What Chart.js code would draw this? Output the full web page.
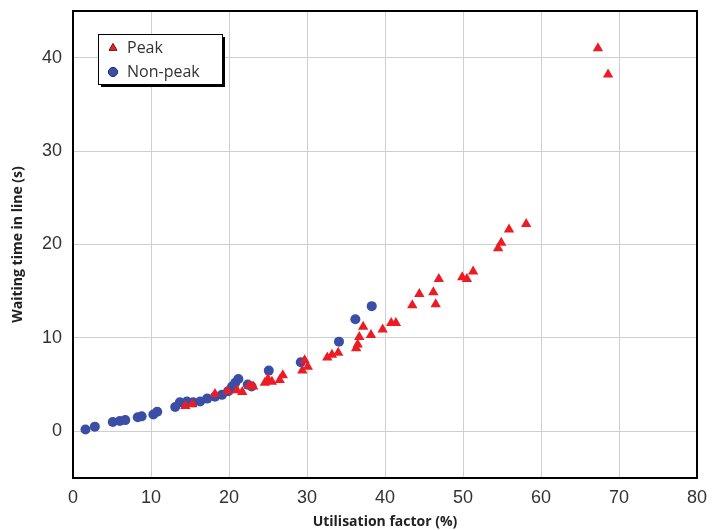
<!DOCTYPE html>
<html>
<head>
<meta charset="utf-8">
<script src="https://cdn.jsdelivr.net/npm/chart.js@4.4.1/dist/chart.umd.min.js"></script>
<style>
  html, body { margin: 0; padding: 0; background: #fff; }
  #wrap { width: 712px; height: 530px; position: relative; }
</style>
</head>
<body>
<div id="wrap"><canvas id="chart"></canvas></div>
<script>
// Peak hours: utilisation factor (%) vs waiting time (s)
const peakX = [14.4, 15.3, 18.2, 19.8, 21.0, 21.7, 22.6, 23.1, 24.6, 25.0, 25.5, 26.5, 26.9, 29.4, 29.7, 30.1, 32.6, 33.2, 34.0, 36.3, 36.5, 36.7, 37.2, 38.2, 39.7, 40.8, 41.4, 43.5, 44.4, 46.2, 46.5, 46.9, 49.9, 50.5, 51.3, 54.5, 54.9, 55.9, 58.1, 67.3, 68.6];
const peakY = [2.7, 2.9, 4.0, 4.3, 4.4, 4.2, 4.9, 4.8, 5.2, 5.6, 5.3, 5.5, 6.0, 6.5, 7.6, 6.9, 7.9, 8.2, 8.4, 8.9, 9.3, 10.1, 11.2, 10.3, 10.9, 11.6, 11.6, 13.5, 14.7, 14.9, 13.6, 16.3, 16.5, 16.3, 17.1, 19.6, 20.2, 21.6, 22.2, 41.0, 38.2];

// Non-peak hours
const offPeakX = [1.6, 2.8, 5.1, 6.0, 6.7, 8.3, 8.8, 10.3, 10.8, 13.1, 13.7, 14.6, 15.4, 16.3, 17.2, 18.2, 19.1, 19.9, 20.4, 20.8, 21.2, 20.6, 22.4, 22.9, 25.1, 29.2, 34.1, 36.2, 38.3];
const offPeakY = [0.2, 0.5, 1.0, 1.1, 1.2, 1.5, 1.6, 1.8, 2.1, 2.6, 3.1, 3.2, 3.1, 3.2, 3.5, 3.7, 3.9, 4.3, 4.8, 5.2, 5.6, 4.6, 5.0, 4.8, 6.5, 7.4, 9.6, 12.0, 13.4];

const xTicks = [0, 10, 20, 30, 40, 50, 60, 70, 80];
const yTicks = [0, 10, 20, 30, 40];

const toPoints = (xs, ys) => xs.map((x, i) => ({ x: x, y: ys[i] }));

// frame round the plot area plus the boxed legend inside it
const framePlugin = {
  id: 'frame',
  afterDraw(chart) {
    const { ctx, chartArea } = chart;
    ctx.save();
    ctx.strokeStyle = '#000';
    ctx.lineWidth = 2;
    ctx.strokeRect(chartArea.left, chartArea.top, chartArea.right - chartArea.left, chartArea.bottom - chartArea.top);

    const bx = chartArea.left + 25, by = chartArea.top + 23, bw = 124, bh = 50;
    ctx.fillStyle = '#000';
    ctx.fillRect(bx + 3, by + 3, bw, bh);
    ctx.fillStyle = '#fff';
    ctx.fillRect(bx, by, bw, bh);
    ctx.lineWidth = 1;
    ctx.strokeStyle = '#000';
    ctx.strokeRect(bx + 0.5, by + 0.5, bw, bh);

    ctx.font = '16px "Open Sans", sans-serif';
    ctx.textBaseline = 'middle';
    chart.data.datasets.forEach((ds, i) => {
      const cy = by + 14 + i * 24;
      ctx.fillStyle = ds.backgroundColor;
      ctx.beginPath();
      Chart.helpers.drawPoint(ctx, { pointStyle: ds.pointStyle, radius: 4.5, rotation: 0, borderWidth: 1 }, bx + 15, cy);
      ctx.fill();
      ctx.fillStyle = '#333';
      ctx.fillText(ds.label, bx + 29, cy);
    });
    ctx.restore();
  }
};

new Chart(document.getElementById('chart'), {
  type: 'scatter',
  data: {
    datasets: [
      {
        label: 'Peak',
        data: toPoints(peakX, peakY),
        pointStyle: 'triangle',
        pointRadius: 6,
        backgroundColor: '#ec1c24',
        borderColor: '#ec1c24',
        borderWidth: 0
      },
      {
        label: 'Non-peak',
        data: toPoints(offPeakX, offPeakY),
        pointStyle: 'circle',
        pointRadius: 5,
        backgroundColor: '#3a4ea6',
        borderColor: '#3a4ea6',
        borderWidth: 0
      }
    ]
  },
  options: {
    responsive: true,
    maintainAspectRatio: false,
    animation: false,
    layout: { padding: { top: 11, right: 15, left: 0, bottom: 0 } },
    scales: {
      x: {
        type: 'linear',
        min: 0,
        max: 80,
        afterBuildTicks: scale => { scale.ticks = xTicks.map(v => ({ value: v })); },
        afterFit: scale => { scale.height = 52; scale.paddingLeft = 0; scale.paddingRight = 0; },
        grid: { color: '#cfcfcf', lineWidth: 1, drawTicks: false },
        border: { display: false },
        ticks: {
          padding: 9,
          color: '#333',
          font: { family: '"Liberation Sans", Arial, sans-serif', size: 18 }
        },
        title: {
          display: true,
          text: 'Utilisation factor (%)',
          color: '#222',
          padding: { top: 0, bottom: 0 },
          font: { family: '"Open Sans", sans-serif', size: 14, weight: 'bold' }
        }
      },
      y: {
        type: 'linear',
        min: -5,
        max: 45,
        afterBuildTicks: scale => { scale.ticks = yTicks.map(v => ({ value: v })); },
        afterFit: scale => { scale.width = 73; scale.paddingTop = 0; scale.paddingBottom = 0; },
        grid: { color: '#cfcfcf', lineWidth: 1, drawTicks: false },
        border: { display: false },
        ticks: {
          padding: 11,
          color: '#333',
          font: { family: '"Liberation Sans", Arial, sans-serif', size: 18 }
        },
        title: {
          display: true,
          text: 'Waiting time in line (s)',
          color: '#222',
          padding: { top: 10, bottom: 0 },
          font: { family: '"Open Sans", sans-serif', size: 14, weight: 'bold' }
        }
      }
    },
    plugins: {
      legend: { display: false },
      tooltip: { enabled: false }
    }
  },
  plugins: [framePlugin]
});
</script>
</body>
</html>
